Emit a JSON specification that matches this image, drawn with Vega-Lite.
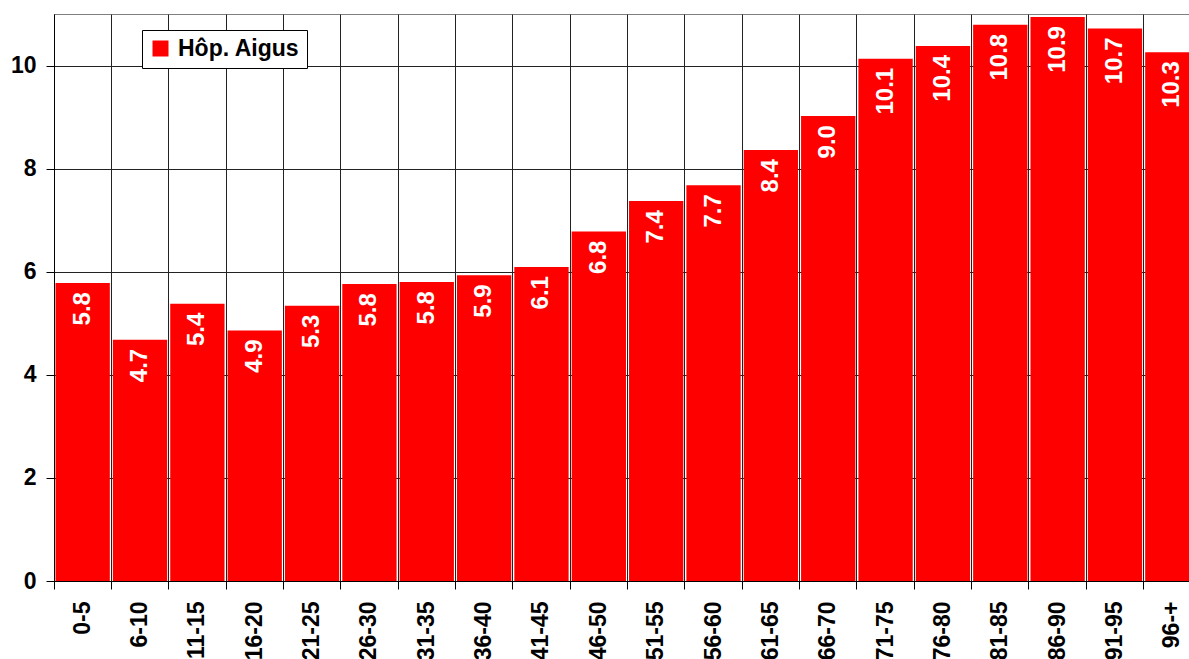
{
  "$schema": "https://vega.github.io/schema/vega-lite/v6.json",
  "autosize": {"type": "none"},
  "width": 1135,
  "height": 567,
  "padding": {"left": 54, "top": 14, "right": 0, "bottom": 78},
  "background": "white",
  "config": {
    "view": {"stroke": "#808080", "strokeWidth": 1},
    "font": "Liberation Sans"
  },
  "data": {
    "values": [
      {"age": "0-5", "value": 5.78, "series": "Hôp. Aigus"},
      {"age": "6-10", "value": 4.68, "series": "Hôp. Aigus"},
      {"age": "11-15", "value": 5.38, "series": "Hôp. Aigus"},
      {"age": "16-20", "value": 4.86, "series": "Hôp. Aigus"},
      {"age": "21-25", "value": 5.34, "series": "Hôp. Aigus"},
      {"age": "26-30", "value": 5.76, "series": "Hôp. Aigus"},
      {"age": "31-35", "value": 5.8, "series": "Hôp. Aigus"},
      {"age": "36-40", "value": 5.93, "series": "Hôp. Aigus"},
      {"age": "41-45", "value": 6.09, "series": "Hôp. Aigus"},
      {"age": "46-50", "value": 6.78, "series": "Hôp. Aigus"},
      {"age": "51-55", "value": 7.37, "series": "Hôp. Aigus"},
      {"age": "56-60", "value": 7.68, "series": "Hôp. Aigus"},
      {"age": "61-65", "value": 8.36, "series": "Hôp. Aigus"},
      {"age": "66-70", "value": 9.02, "series": "Hôp. Aigus"},
      {"age": "71-75", "value": 10.13, "series": "Hôp. Aigus"},
      {"age": "76-80", "value": 10.38, "series": "Hôp. Aigus"},
      {"age": "81-85", "value": 10.79, "series": "Hôp. Aigus"},
      {"age": "86-90", "value": 10.94, "series": "Hôp. Aigus"},
      {"age": "91-95", "value": 10.72, "series": "Hôp. Aigus"},
      {"age": "96-+", "value": 10.26, "series": "Hôp. Aigus"}
    ]
  },
  "encoding": {
    "x": {
      "field": "age",
      "type": "nominal",
      "sort": null,
      "scale": {"type": "band", "paddingInner": 0, "paddingOuter": 0, "range": [0, 1147]},
      "axis": {
        "title": null,
        "bandPosition": 0,
        "grid": true,
        "gridColor": "#222",
        "gridWidth": 1,
        "gridOpacity": 1,
        "domainColor": "#000",
        "domainWidth": 1,
        "tickColor": "#000",
        "tickSize": 8,
        "labelAngle": -90,
        "labelAlign": "right",
        "labelBaseline": "middle",
        "labelFont": "Liberation Sans",
        "labelFontWeight": "bold",
        "labelFontSize": 23,
        "labelColor": "#000",
        "labelPadding": 12,
        "labelBound": false,
        "labelOverlap": false
      }
    },
    "y": {
      "field": "value",
      "type": "quantitative",
      "scale": {"domain": [0, 11], "nice": false},
      "axis": {
        "title": null,
        "values": [0, 2, 4, 6, 8, 10],
        "grid": true,
        "gridColor": "#222",
        "gridWidth": 1,
        "gridOpacity": 1,
        "domainColor": "#000",
        "domainWidth": 1,
        "tickColor": "#000",
        "tickSize": 8,
        "labelFont": "Liberation Sans",
        "labelFontWeight": "bold",
        "labelFontSize": 23,
        "labelColor": "#000",
        "labelPadding": 10
      }
    }
  },
  "layer": [
    {
      "mark": {"type": "bar", "width": {"band": 0.947}, "color": "#ff0000"},
      "encoding": {
        "color": {
          "field": "series",
          "type": "nominal",
          "scale": {"range": ["#ff0000"]},
          "legend": {
            "title": null,
            "orient": "none",
            "legendX": 88,
            "legendY": 16,
            "strokeColor": "#000",
            "fillColor": "white",
            "padding": 7,
            "symbolType": "square",
            "symbolSize": 256,
            "symbolStrokeWidth": 0,
            "symbolOpacity": 1,
            "labelFont": "Liberation Sans",
            "labelFontWeight": "bold",
            "labelFontSize": 23,
            "labelColor": "#000",
            "labelOffset": 6
          }
        }
      }
    },
    {
      "mark": {
        "type": "text",
        "angle": 270,
        "align": "right",
        "baseline": "middle",
        "yOffset": 9,
        "font": "Liberation Sans",
        "fontWeight": "bold",
        "fontSize": 24,
        "color": "white"
      },
      "encoding": {
        "text": {"field": "value", "type": "quantitative", "format": ".1f"}
      }
    }
  ]
}
